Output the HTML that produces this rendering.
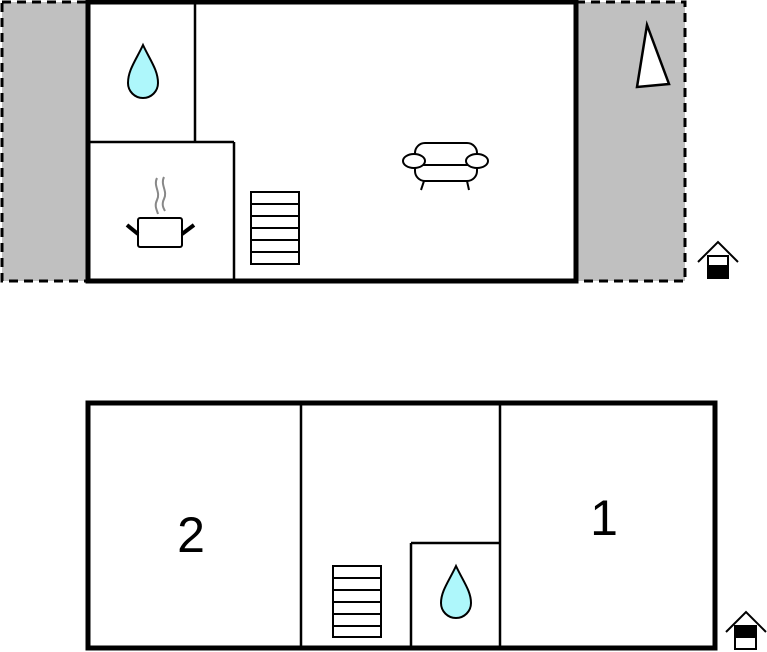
<!DOCTYPE html>
<html><head><style>
html,body{margin:0;padding:0;background:#fff;width:767px;height:652px;overflow:hidden}
</style></head><body>
<svg width="767" height="652" viewBox="0 0 767 652" xmlns="http://www.w3.org/2000/svg">
<rect x="2" y="2" width="86" height="279" fill="#c0c0c0" stroke="#000" stroke-width="3" stroke-dasharray="9,6"/>
<rect x="576" y="2" width="109" height="279" fill="#c0c0c0" stroke="#000" stroke-width="3" stroke-dasharray="9,6"/>
<rect x="88" y="2" width="488" height="279" fill="#fff" stroke="none"/>
<g stroke="#000" stroke-width="2.5" fill="none">
<line x1="195" y1="3" x2="195" y2="142"/>
<line x1="88" y1="142" x2="234" y2="142"/>
<line x1="234" y1="142" x2="234" y2="280"/>
</g>
<rect x="88" y="2" width="488" height="279" fill="none" stroke="#000" stroke-width="5"/>
<path d="M143 45 C150 60 158 70 158 83 A15 15 0 0 1 128 83 C128 70 136 60 143 45Z" fill="#aef7fb" stroke="#000" stroke-width="2"/>
<g stroke="#888" stroke-width="2" fill="none">
<path d="M157 178 c-4 8 4 14 0 22 c-3 6 0 10 1 14"/>
<path d="M164 177 c-4 8 4 14 0 22 c-3 6 0 10 1 12"/>
</g>
<rect x="138" y="218" width="44" height="29" rx="2" fill="#fff" stroke="#000" stroke-width="2"/>
<line x1="127" y1="225" x2="138" y2="234" stroke="#000" stroke-width="4"/>
<line x1="194" y1="225" x2="182" y2="234" stroke="#000" stroke-width="4"/>
<g fill="none" stroke="#000" stroke-width="2">
<rect x="251" y="192" width="48" height="72"/>
<line x1="251" y1="204" x2="299" y2="204"/><line x1="251" y1="216" x2="299" y2="216"/><line x1="251" y1="228" x2="299" y2="228"/><line x1="251" y1="240" x2="299" y2="240"/><line x1="251" y1="252" x2="299" y2="252"/>
</g>
<g fill="#fff" stroke="#000" stroke-width="2">
<rect x="415" y="143" width="62" height="38" rx="10"/>
<line x1="424" y1="181" x2="421" y2="190"/><line x1="467" y1="181" x2="469" y2="190"/>
<line x1="422" y1="165" x2="470" y2="165"/>
<ellipse cx="414" cy="161" rx="11" ry="7"/>
<ellipse cx="477" cy="161" rx="11" ry="7"/>
</g>
<polygon points="647,25 637,87 669,84" fill="#fff" stroke="#000" stroke-width="2.5"/>
<g stroke="#000" stroke-width="2" fill="#fff">
<polyline points="698,262 718,242 738,262" fill="none"/>
<rect x="708" y="256" width="20" height="12"/>
<rect x="708" y="266" width="20" height="12" fill="#000"/>
</g>
<g stroke="#000" stroke-width="2.5" fill="none">
<line x1="301" y1="403" x2="301" y2="648"/>
<line x1="500" y1="403" x2="500" y2="648"/>
<line x1="411" y1="543" x2="500" y2="543"/>
<line x1="411" y1="543" x2="411" y2="648"/>
</g>
<rect x="88" y="403" width="627" height="245" fill="none" stroke="#000" stroke-width="5"/>
<g fill="none" stroke="#000" stroke-width="2">
<rect x="333" y="566" width="48" height="71"/>
<line x1="333" y1="578" x2="381" y2="578"/><line x1="333" y1="590" x2="381" y2="590"/><line x1="333" y1="602" x2="381" y2="602"/><line x1="333" y1="614" x2="381" y2="614"/><line x1="333" y1="626" x2="381" y2="626"/>
</g>
<path d="M456 566 C463 581 471 591 471 603 A15 15 0 0 1 441 603 C441 591 449 581 456 566Z" fill="#aef7fb" stroke="#000" stroke-width="2"/>
<text x="191" y="552" font-family="Liberation Sans, sans-serif" font-size="50" text-anchor="middle" fill="#000">2</text>
<text x="604" y="535" font-family="Liberation Sans, sans-serif" font-size="50" text-anchor="middle" fill="#000">1</text>
<g stroke="#000" stroke-width="2" fill="#fff">
<polyline points="726,632 746,612 766,632" fill="none"/>
<rect x="735" y="626" width="21" height="12" fill="#000"/>
<rect x="735" y="637" width="21" height="12"/>
</g>
</svg>
</body></html>
